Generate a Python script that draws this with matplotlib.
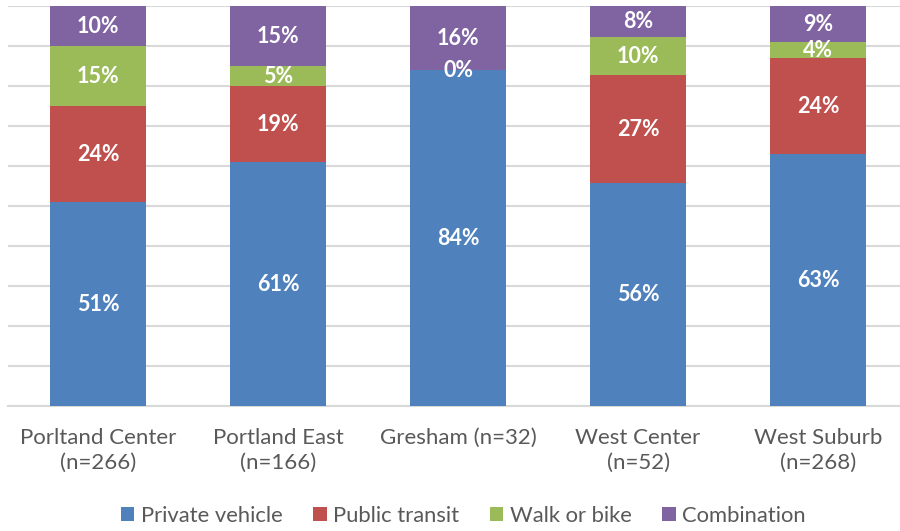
import numpy as np
import matplotlib.pyplot as plt

plt.rcParams['font.family'] = ['Lato', 'DejaVu Sans']

# commute mode shares by region, in percent
regions = ["Porltand Center\n(n=266)", "Portland East\n(n=166)", "Gresham (n=32)",
           "West Center\n(n=52)", "West Suburb\n(n=268)"]
modes = ["Private vehicle", "Public transit", "Walk or bike", "Combination"]
private_vehicle = [51, 61, 84, 55.8, 63]
public_transit = [24, 19, 0, 26.9, 24]
walk_or_bike = [15, 5, 0, 9.6, 4]
combination = [10, 15, 16, 7.7, 9]
colors = ["#4F81BD", "#C0504D", "#9BBB59", "#8064A2"]

series = [private_vehicle, public_transit, walk_or_bike, combination]

fig = plt.figure(figsize=(9, 5.31), dpi=100)
ax = fig.add_axes([0.009, 0.2354, 1.0, 0.7533])

x = np.arange(len(regions))
bottom = np.zeros(len(regions))
bars = []
for name, vals, c in zip(modes, series, colors):
    vals = np.array(vals, dtype=float)
    b = ax.bar(x, vals, 0.533, bottom=bottom, color=c, label=name, zorder=3)
    bars.append(b)
    for xi, v, bt in zip(x, vals, bottom):
        if v == 0 and name == "Walk or bike":
            continue
        ax.text(xi, bt + v / 2, f"{round(v):d}%", ha='center', va='center',
                color='white', fontsize=15.5, fontweight='bold', zorder=4)
    bottom += vals

ax.set_ylim(0, 100)
ax.set_xlim(-0.5, 4.5)
ax.set_yticks(np.arange(0, 101, 10))
ax.set_yticklabels([])
ax.tick_params(axis='y', length=0)
ax.yaxis.grid(True, color='#D9D9D9', linewidth=1.5, zorder=0)
ax.set_xticks(x)
ax.set_xticklabels(regions, fontsize=16, color='#595959', linespacing=1.3)
ax.tick_params(axis='x', length=0, pad=16)
for s in ['top', 'right', 'left']:
    ax.spines[s].set_visible(False)
ax.spines['bottom'].set_color('#D9D9D9')
ax.spines['bottom'].set_linewidth(1.5)

fig.legend(handles=bars, labels=modes, loc='lower center', ncol=4, frameon=False,
           bbox_to_anchor=(0.515, -0.028), fontsize=15.8, handlelength=0.6,
           handleheight=0.6, handletextpad=0.3, columnspacing=1.4,
           labelcolor='#595959')

fig.savefig("out.png", dpi=100)
